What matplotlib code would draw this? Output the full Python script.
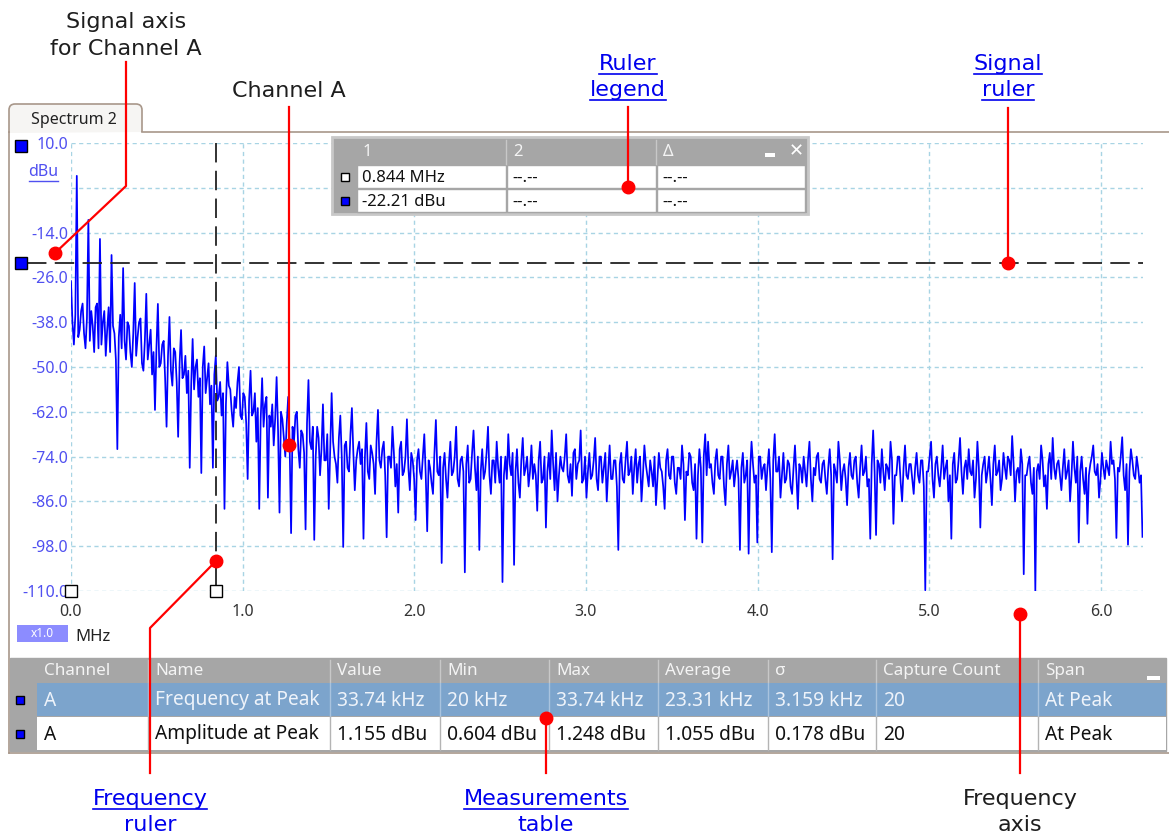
import numpy as np
import matplotlib
matplotlib.use("Agg")
import matplotlib.pyplot as plt
from matplotlib.patches import Rectangle, PathPatch
from matplotlib.path import Path

W, H = 1169, 834
plt.rcParams['lines.scale_dashes'] = False

UI = ['Noto Sans', 'DejaVu Sans']
NOTE = ['DejaVu Sans']

# spectrum of channel A, one bin = a quarter of the 33.74 kHz fundamental
fundamental_mhz = 0.03374
bin_mhz = fundamental_mhz / 4
spectrum_dbu = [
    -27, -38, -44, -36, 1.2, -42, -40, -35, -33, -41, -45, -37, -10.6, -43, -35, -39, -46, -34, -33, -45,
    -15.7, -44, -38, -35, -47, -40, -34, -46, -20.0, -39, -41, -48, -72, -42, -36, -45, -23.5, -43, -48, -38,
    -39, -46, -50, -41, -27.5, -47, -42, -38, -37, -49, -51, -43, -30.4, -48, -44, -40, -52, -46, -61.5, -45,
    -33.1, -50, -49, -44, -43, -53, -66, -47, -36.6, -51, -55, -45, -46, -54, -68.7, -49, -40.1, -53, -52, -47,
    -57, -51, -77, -55, -42.5, -56, -50, -48, -58, -53, -78.4, -50, -44.5, -57, -53, -49, -60, -55, -77, -52,
    -47, -59, -58, -54, -63, -57, -88, -60, -48.7, -55, -56, -62, -66, -58, -61, -54, -50, -63, -64, -57,
    -58, -65, -80, -59, -51, -63, -62, -57, -70, -61, -88, -64, -53, -66, -60, -58, -85, -63, -66, -60,
    -71, -64, -52.7, -67, -89, -62, -64, -69, -74, -65, -58, -71, -94.5, -66, -70, -63, -62, -72, -77, -67,
    -68, -73, -93.5, -65, -53.5, -70, -72, -66, -96.3, -74, -66, -69, -79, -72, -60, -75, -75, -68, -88, -73,
    -57, -70, -74, -76, -81, -69, -63, -74, -98.2, -71, -70, -77, -78, -68, -61, -73, -83, -75, -72, -70,
    -76, -72, -96, -74, -65, -78, -80, -71, -73, -76, -84, -70, -61.5, -75, -77, -72, -70, -79, -95.6, -74,
    -74, -77, -66, -73, -82, -76, -89, -72, -70, -79, -78, -74, -64, -77, -83, -73, -75, -80, -91, -75,
    -72, -78, -80, -74, -68, -79, -94, -75, -77, -81, -84, -73, -64.2, -78, -79, -74, -102.5, -77, -73, -80,
    -85, -76, -70, -79, -78, -74, -66, -80, -82, -75, -74, -78, -105, -76, -71, -81, -80, -73, -67, -77,
    -83, -74, -99, -78, -72, -80, -78, -73, -66, -79, -84, -75, -75, -81, -70, -77, -81, -74, -107.6, -79,
    -74, -80, -68, -76, -79, -73, -103, -78, -72, -81, -85, -75, -69, -79, -77, -74, -82, -78, -71, -80,
    -76, -79, -88.5, -75, -70, -81, -80, -74, -93, -78, -73, -80, -67, -76, -83, -73, -86, -79, -74, -77,
    -78, -74, -68, -79, -81, -76, -84.5, -73, -72, -80, -76, -75, -67, -81, -80, -74, -85, -78, -73, -80,
    -79, -75, -69, -80, -83, -74, -74, -81, -77, -73, -86, -78, -71, -80, -80, -75, -75, -82, -99, -76,
    -73, -80, -81, -75, -70, -79, -78, -74, -84, -77, -72, -81, -76, -74, -86, -79, -71, -76, -79, -82,
    -75, -78, -82, -74, -87, -80, -73, -77, -78, -82, -88, -75, -72, -79, -80, -74, -74, -81, -84, -77,
    -77, -80, -71, -76, -91, -78, -79, -73, -74, -81, -83, -76, -96, -79, -72, -77, -97, -74, -68, -79,
    -70, -77, -76, -81, -84, -75, -72, -79, -80, -74, -74, -82, -87, -76, -71, -80, -78, -75, -82, -78,
    -75, -80, -99, -77, -73, -81, -79, -75, -100, -78, -70, -76, -81, -79, -97, -74, -74, -80, -77, -76,
    -83, -77, -72, -80, -99.6, -75, -68, -78, -78, -74, -85, -79, -73, -81, -80, -75, -76, -82, -84, -77,
    -71, -79, -88, -76, -77, -81, -74, -78, -82, -75, -70, -80, -86, -77, -79, -74, -73, -80, -81, -76,
    -75, -80, -84, -77, -72, -79, -101.5, -76, -78, -81, -70, -75, -83, -78, -76, -80, -87, -77, -73, -79,
    -80, -75, -74, -81, -85, -77, -71, -79, -78, -74, -82, -80, -96, -76, -67, -78, -95, -75, -76, -81,
    -72, -78, -83, -76, -77, -80, -70, -75, -92, -79, -79, -74, -74, -81, -86, -77, -71, -79, -80, -76,
    -76, -80, -84, -77, -73, -79, -81, -75, -75, -82, -109.8, -78, -78, -74, -70, -80, -85, -76, -74, -79,
    -82, -77, -71, -80, -77, -75, -86, -79, -96, -76, -73, -81, -80, -75, -69, -78, -84, -77, -75, -80,
    -72, -78, -79, -75, -85, -80, -70, -77, -93, -79, -76, -74, -81, -78, -74, -80, -87, -76, -71, -79,
    -78, -75, -83, -80, -73, -77, -80, -74, -75, -79, -68.5, -76, -86, -78, -77, -81, -72, -76, -105.5, -79,
    -79, -76, -74, -81, -84, -77, -110, -78, -76, -80, -71, -75, -82, -79, -88, -76, -73, -80, -69, -77,
    -80, -76, -75, -79, -83, -77, -72, -80, -78, -75, -86, -79, -70, -77, -81, -74, -97, -78, -74, -80,
    -84, -77, -92, -79, -76, -74, -71, -78, -79, -76, -85, -80, -73, -77, -80, -75, -77, -79, -70, -76,
    -75, -80, -95.8, -77, -78, -74, -68.8, -79, -83, -76, -97.6, -78, -72, -75, -79, -80, -74, -77, -81, -79, -95.5,
]
freq_mhz = np.arange(len(spectrum_dbu)) * bin_mhz

x_max_mhz = 6.245
x_ticks = [0, 1, 2, 3, 4, 5, 6]
x_tick_labels = ['0.0', '1.0', '2.0', '3.0', '4.0', '5.0', '6.0']
y_ticks = [10, -2, -14, -26, -38, -50, -62, -74, -86, -98, -110]
y_tick_labels = ['10.0', '', '-14.0', '-26.0', '-38.0', '-50.0', '-62.0',
                 '-74.0', '-86.0', '-98.0', '-110.0']

ruler_freq_mhz = 0.844
ruler_level_dbu = -22.21

legend_header = ['1', '2', 'Δ']
legend_rows = [['0.844 MHz', '--.--', '--.--'],
               ['-22.21 dBu', '--.--', '--.--']]

table_header = ['Channel', 'Name', 'Value', 'Min', 'Max', 'Average', 'σ',
                'Capture Count', 'Span']
table_rows = [
    ['A', 'Frequency at Peak', '33.74 kHz', '20 kHz', '33.74 kHz', '23.31 kHz',
     '3.159 kHz', '20', 'At Peak'],
    ['A', 'Amplitude at Peak', '1.155 dBu', '0.604 dBu', '1.248 dBu', '1.055 dBu',
     '0.178 dBu', '20', 'At Peak'],
]

fig = plt.figure(figsize=(W / 100, H / 100), dpi=100)
fig.patch.set_facecolor('white')

# spectrum view
ax = fig.add_axes([71 / W, 1 - 591 / H, (1143 - 71) / W, (591 - 143) / H])
ax.plot(freq_mhz, spectrum_dbu, color='#0000ff', lw=1.25, zorder=3)
ax.set_xlim(0, x_max_mhz)
ax.set_ylim(-110, 10)
ax.set_xticks(x_ticks)
ax.set_xticklabels(x_tick_labels, color='#333333', fontsize=11.5, family=UI)
ax.set_yticks(y_ticks)
ax.set_yticklabels(y_tick_labels, color='#5050f0', fontsize=11.5, family=UI)
ax.tick_params(length=0)
ax.tick_params(axis='y', pad=2)
ax.tick_params(axis='x', pad=9)
ax.grid(True, color='#a8d4e4', lw=1, linestyle=(0, (3, 2.5)))
for s in ax.spines.values():
    s.set_visible(False)


def to_px(x, y):
    dx, dy = ax.transData.transform((x, y))
    return dx, H - dy


# overlay in pixel coordinates for the window furniture
ov = fig.add_axes([0, 0, 1, 1])
ov.set_xlim(0, W)
ov.set_ylim(H, 0)
ov.axis('off')
renderer = fig.canvas.get_renderer()

frame_col = '#a8978a'
tab = Path([(9, 133), (9, 110), (9, 104), (15, 104), (136, 104), (142, 104), (142, 110), (142, 132)],
           [Path.MOVETO, Path.LINETO, Path.CURVE3, Path.CURVE3, Path.LINETO,
            Path.CURVE3, Path.CURVE3, Path.LINETO])
ov.add_patch(PathPatch(tab, facecolor='#f6f5f3', edgecolor=frame_col, lw=1.2))
ov.text(74, 120, 'Spectrum 2', ha='center', va='center', fontsize=11.5, color='#222222', family=UI)
ov.plot([142, W], [132, 132], color=frame_col, lw=1.2)
ov.plot([9, 9], [132, 753], color=frame_col, lw=1.2)
ov.plot([9, W], [753, 753], color=frame_col, lw=1.2)

# signal axis unit and handles
ov.text(58, 172, 'dBu', ha='right', va='center', fontsize=11.5, color='#5050f0', family=UI)
ov.plot([29, 58], [181, 181], color='#5050f0', lw=1)
x0, y_top = to_px(0, 10)
ov.plot(21, y_top + 3, 's', ms=8.5, mfc='#0000ff', mec='black', mew=1)

# rulers
rx, ry = to_px(ruler_freq_mhz, ruler_level_dbu)
x_right, _ = to_px(x_max_mhz, 0)
ov.plot([27, x_right], [ry, ry], color='#222222', lw=1.3, dashes=(14, 6))
ov.plot(21, ry, 's', ms=8.5, mfc='#0000ff', mec='black', mew=1)
_, y_bot = to_px(0, -110)
_, y_stub = to_px(0, -102)
ov.plot([rx, rx], [y_top, y_stub], color='#222222', lw=1.3, dashes=(14, 6))
ov.plot([rx, rx], [y_stub, y_bot], color='#222222', lw=1.3)
ov.plot([x0, rx], [y_bot, y_bot], 's', ms=8.5, mfc='white', mec='black', mew=1)

# frequency scale box
ov.add_patch(Rectangle((17, 625), 51, 17, facecolor='#8c8cff', edgecolor='none'))
ov.text(42, 633.5, 'x1.0', ha='center', va='center', fontsize=8.5, color='white', family=UI)
ov.text(75, 637, 'MHz', ha='left', va='center', fontsize=12, color='#222222', family=UI)


def cell(x0, y0, x1, y1, fc, ec='none', lw=1, z=5):
    ov.add_patch(Rectangle((x0, y0), x1 - x0, y1 - y0, facecolor=fc, edgecolor=ec, lw=lw, zorder=z))


# ruler legend
gray = '#a6a6a6'
cell(332, 137, 808, 214, gray, '#c8c8c8', 2)
lg_cols = [357, 507, 657, 806]
for j, h in enumerate(legend_header):
    ov.text(lg_cols[j] + 6, 152, h, ha='left', va='center', fontsize=12, color='#f4f4f4', family=UI, zorder=7)
    if j > 0:
        ov.plot([lg_cols[j] - 1, lg_cols[j] - 1], [140, 164], color='#c8c8c8', lw=1, zorder=6)
cell(765, 153, 775, 157, 'white', z=7)
ov.text(796, 151, '✕', ha='center', va='center', fontsize=13, color='white',
        fontweight='bold', family=['DejaVu Sans'], zorder=7)
lg_rows_y = [(165, 188), (189, 212)]
lg_icons = ['white', '#0000ff']
for i, row in enumerate(legend_rows):
    ya, yb = lg_rows_y[i]
    ov.plot(345, (ya + yb) / 2, 's', ms=6, mfc=lg_icons[i], mec='black', mew=1, zorder=7)
    for j, val in enumerate(row):
        cell(lg_cols[j], ya, lg_cols[j + 1] - 1, yb, 'white', gray, 1)
        ov.text(lg_cols[j] + 5, (ya + yb) / 2 + 1, val, ha='left', va='center', fontsize=12,
                color='#111111', family=UI, zorder=7)

# measurements table
tb_cols = [37, 148, 330, 440, 549, 658, 768, 876, 1038, 1166]
cell(10, 658, 1166, 751, gray, gray, 1)
for j, h in enumerate(table_header):
    ov.text(tb_cols[j] + 7, 671, h, ha='left', va='center', fontsize=12.3, color='#f4f4f4', family=UI, zorder=7)
    if j > 0:
        ov.plot([tb_cols[j], tb_cols[j]], [660, 682], color='#c8c8c8', lw=1, zorder=6)
cell(1147, 676, 1160, 680, 'white', z=7)
tb_rows_y = [(683, 716), (717, 750)]
row_fill = ['#7ca4cc', 'white']
row_text = ['#eef3fa', '#111111']
row_line = ['#a9c3de', '#b4b4b4']
for i, row in enumerate(table_rows):
    ya, yb = tb_rows_y[i]
    cell(37, ya, 1166, yb, row_fill[i], z=5)
    ov.plot(20, (ya + yb) / 2, 's', ms=6, mfc='#0000ff', mec='black', mew=1, zorder=7)
    for j, val in enumerate(row):
        if j > 0:
            ov.plot([tb_cols[j], tb_cols[j]], [ya, yb], color=row_line[i], lw=1, zorder=6)
        ov.text(tb_cols[j] + 7, (ya + yb) / 2 + 1, val, ha='left', va='center', fontsize=13.8,
                color=row_text[i], family=UI, zorder=7)


# callouts
def callout(pts):
    xs, ys = zip(*pts)
    ov.plot(xs, ys, color='#ff0000', lw=1.6, zorder=20)
    ov.plot(xs[-1], ys[-1], 'o', color='#ff0000', ms=9, zorder=21)


def note(x, y, s, link=False):
    col = '#0000ee' if link else '#1e1e1e'
    t = ov.text(x, y, s, ha='center', va='baseline', fontsize=16, color=col, family=NOTE)
    if link:
        bb = t.get_window_extent(renderer)
        ov.plot([bb.x0, bb.x1], [y + 4, y + 4], color=col, lw=1.2)


note(126, 28, 'Signal axis')
note(126, 55, 'for Channel A')
callout([(126, 62), (126, 186), (55, 253)])

note(289, 97, 'Channel A')
callout([(289, 107), (289, 445)])

note(628, 70, 'Ruler', True)
note(628, 96, 'legend', True)
callout([(628, 107), (628, 187)])

note(1008, 70, 'Signal', True)
note(1008, 96, 'ruler', True)
callout([(1008, 108), (1008, 263)])

note(150, 805, 'Frequency', True)
note(150, 831, 'ruler', True)
callout([(150, 773), (150, 628), (216, 561)])

note(546, 805, 'Measurements', True)
note(546, 831, 'table', True)
callout([(546, 773), (546, 718)])

note(1020, 805, 'Frequency')
note(1020, 831, 'axis')
callout([(1020, 773), (1020, 614)])

fig.savefig('out.png', dpi=100)
